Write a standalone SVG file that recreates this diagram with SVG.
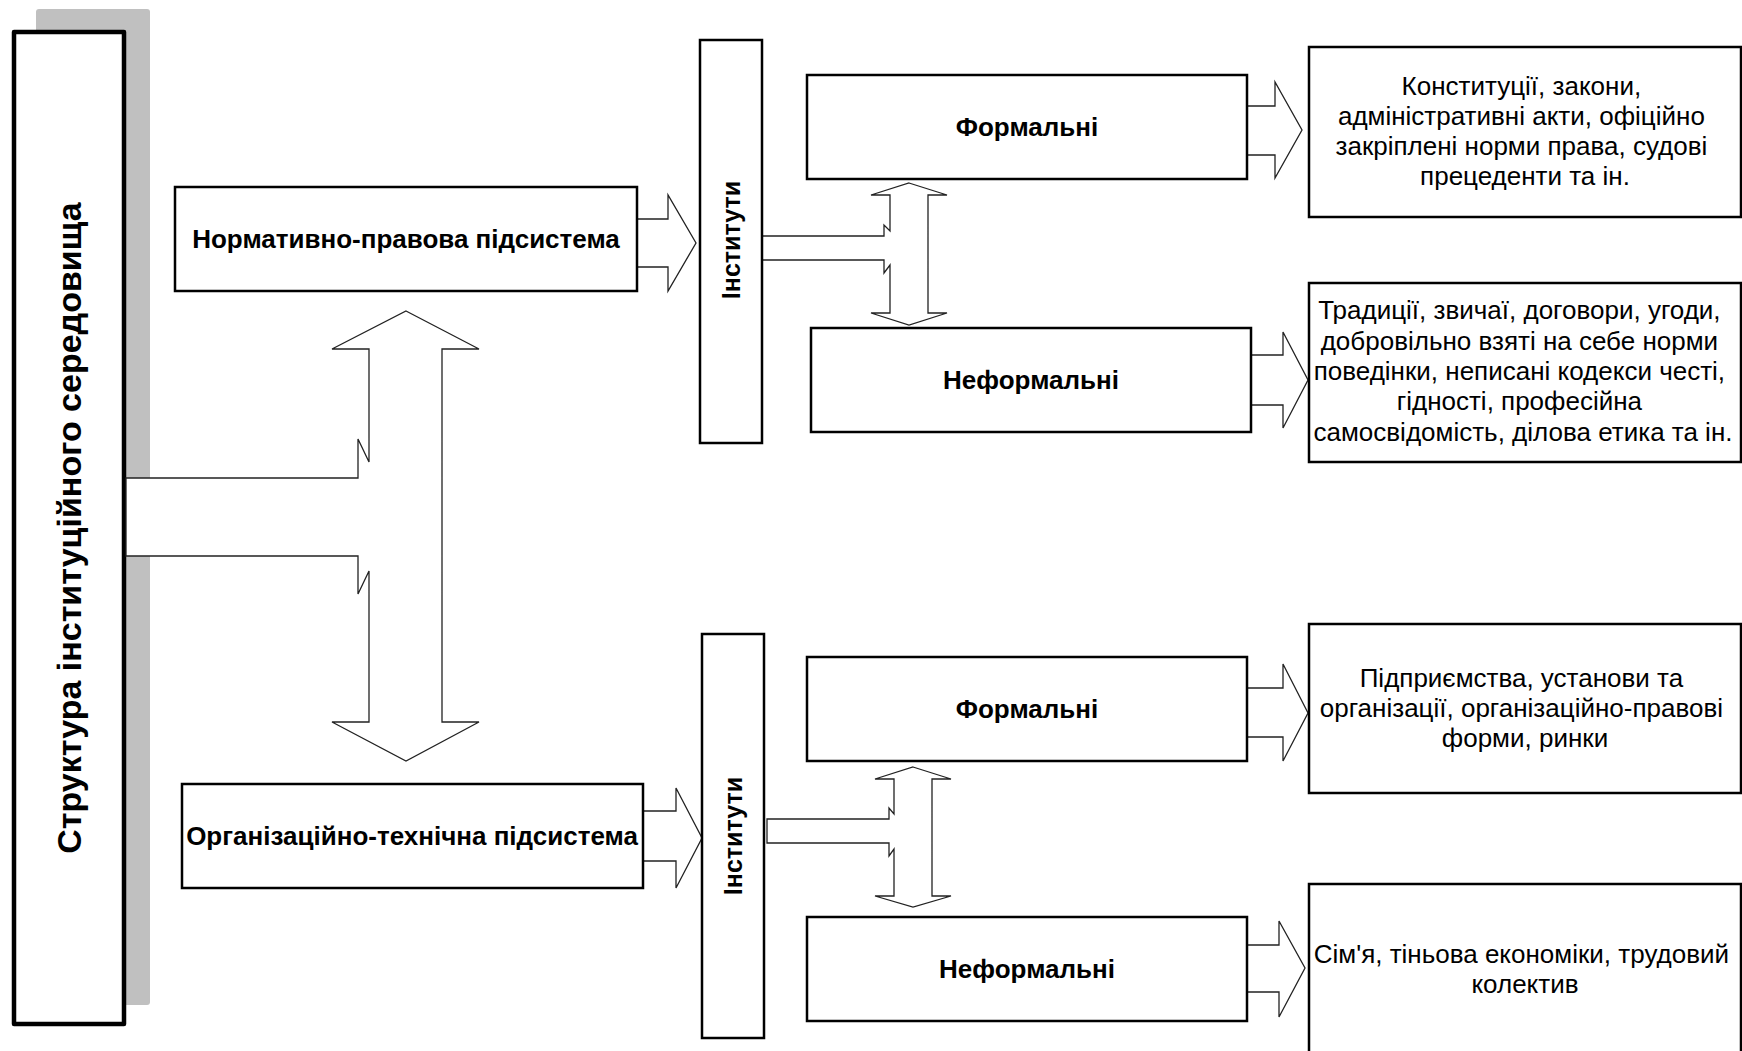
<svg xmlns="http://www.w3.org/2000/svg" width="1742" height="1051" viewBox="0 0 1742 1051">
<style>
text{font-family:"Liberation Sans",Arial,sans-serif;fill:#000}
.b{font-weight:bold;font-size:26px}
.r{font-size:26px}
.box{fill:#fff;stroke:#000;stroke-width:2.5}
.arr{fill:#fff;stroke:#222;stroke-width:1.3;stroke-linejoin:miter}
</style>
<rect x="0" y="0" width="1742" height="1051" fill="#fff"/>
<g id="main">
<rect x="36" y="9" width="114" height="996" rx="3" fill="#c0c0c0"/>
<rect x="14" y="32" width="110" height="992" fill="#fff" stroke="#000" stroke-width="4.5" stroke-linejoin="round"/>
<text class="b" style="font-size:34px" text-anchor="middle" dominant-baseline="central" transform="translate(69,528) rotate(-90)">Структура інституційного середовища</text>
</g>
<g id="connectors">
<polygon class="arr" points="406,311 479,349 442,349 442,722 479,722 406,761 332,722 369,722 369,571 358,594 358,556 126,556 126,478 358,478 358,439 369,462 369,349 332,349"/>
<polygon class="arr" points="637,219 668,219 668,195 696,243 668,291 668,267 637,267"/>
<polygon class="arr" points="643,811 676,811 676,788 702,838 676,888 676,861 643,861"/>
<polygon class="arr" points="909,183 947,195 928,195 928,313 947,313 909,325 871,313 890,313 890,265 884,273 884,260 762,260 762,236 884,236 884,225 890,231 890,195 871,195"/>
<polygon class="arr" points="913,767 951,779 932,779 932,896 951,896 913,907 875,896 894,896 894,849 889,856 889,843 767,843 767,819 889,819 889,808 894,814 894,779 875,779"/>
<polygon class="arr" points="1247,106 1275,106 1275,82 1302,130 1275,178 1275,155 1247,155"/>
<polygon class="arr" points="1251,355 1283,355 1283,332 1308,380 1283,428 1283,405 1251,405"/>
<polygon class="arr" points="1247,688 1283,688 1283,664 1308,713 1283,761 1283,737 1247,737"/>
<polygon class="arr" points="1247,945 1279,945 1279,921 1305,968 1279,1017 1279,992 1247,992"/>
</g>
<g id="n-normative">
<rect class="box" x="175" y="187" width="462" height="104"/>
<text class="b" x="406" y="239" text-anchor="middle" dominant-baseline="central">Нормативно-правова підсистема</text>
</g>
<g id="n-organizational">
<rect class="box" x="182" y="784" width="461" height="104"/>
<text class="b" x="412" y="836" text-anchor="middle" dominant-baseline="central">Організаційно-технічна підсистема</text>
</g>
<g id="n-inst1">
<rect class="box" x="700" y="40" width="62" height="403"/>
<text class="b" style="font-size:25px" text-anchor="middle" dominant-baseline="central" transform="translate(731,240) rotate(-90)">Інститути</text>
</g>
<g id="n-inst2">
<rect class="box" x="702" y="634" width="62" height="404"/>
<text class="b" style="font-size:25px" text-anchor="middle" dominant-baseline="central" transform="translate(733,836) rotate(-90)">Інститути</text>
</g>
<g id="n-formal1">
<rect class="box" x="807" y="75" width="440" height="104"/>
<text class="b" x="1027" y="127" text-anchor="middle" dominant-baseline="central">Формальні</text>
</g>
<g id="n-informal1">
<rect class="box" x="811" y="328" width="440" height="104"/>
<text class="b" x="1031" y="380" text-anchor="middle" dominant-baseline="central">Неформальні</text>
</g>
<g id="n-formal2">
<rect class="box" x="807" y="657" width="440" height="104"/>
<text class="b" x="1027" y="709" text-anchor="middle" dominant-baseline="central">Формальні</text>
</g>
<g id="n-informal2">
<rect class="box" x="807" y="917" width="440" height="104"/>
<text class="b" x="1027" y="969" text-anchor="middle" dominant-baseline="central">Неформальні</text>
</g>
<g id="n-text1">
<rect class="box" x="1309" y="47" width="432" height="170"/>
<text class="r" text-anchor="middle" dominant-baseline="central">
<tspan x="1525" y="86">Конституції, закони,</tspan>
<tspan x="1525" y="116">адміністративні акти, офіційно</tspan>
<tspan x="1525" y="146">закріплені норми права, судові</tspan>
<tspan x="1525" y="176">прецеденти та ін.</tspan>
</text>
</g>
<g id="n-text2">
<rect class="box" x="1309" y="283" width="432" height="179"/>
<text class="r" text-anchor="middle" dominant-baseline="central">
<tspan x="1523" y="310">Традиції, звичаї, договори, угоди,</tspan>
<tspan x="1523" y="341">добровільно взяті на себе норми</tspan>
<tspan x="1523" y="371">поведінки, неписані кодекси честі,</tspan>
<tspan x="1523" y="401">гідності, професійна</tspan>
<tspan x="1523" y="432">самосвідомість, ділова етика та ін.</tspan>
</text>
</g>
<g id="n-text3">
<rect class="box" x="1309" y="624" width="432" height="169"/>
<text class="r" text-anchor="middle" dominant-baseline="central">
<tspan x="1525" y="678">Підприємства, установи та</tspan>
<tspan x="1525" y="708">організації, організаційно-правові</tspan>
<tspan x="1525" y="738">форми, ринки</tspan>
</text>
</g>
<g id="n-text4">
<rect class="box" x="1309" y="884" width="432" height="180"/>
<text class="r" text-anchor="middle" dominant-baseline="central">
<tspan x="1525" y="954">Сім'я, тіньова економіки, трудовий</tspan>
<tspan x="1525" y="984">колектив</tspan>
</text>
</g>
</svg>
